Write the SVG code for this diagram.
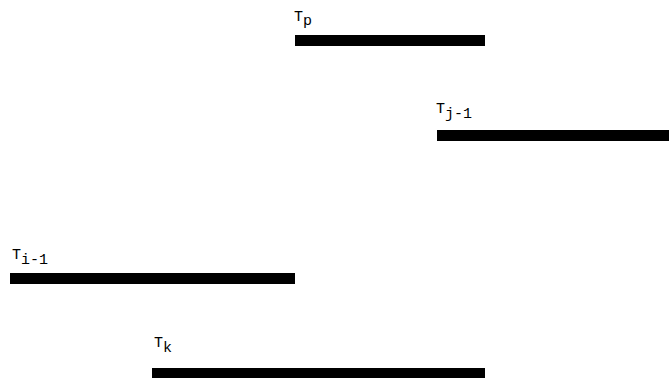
<svg xmlns="http://www.w3.org/2000/svg" width="669" height="385" viewBox="0 0 669 385">
<style>
text{font-family:"Liberation Mono","Courier New",monospace;font-size:15px;fill:#000}
.sub{font-size:15px}
.bar{fill:#000}
</style>
<rect width="669" height="385" fill="#fff"/>
<g id="Tp">
<text x="294" y="21">T<tspan class="sub" dy="4">p</tspan></text>
<rect class="bar" x="295" y="35" width="190" height="11"/>
</g>
<g id="Tj-1">
<text x="436" y="113">T<tspan class="sub" dy="5">j-1</tspan></text>
<rect class="bar" x="437" y="130" width="232" height="11"/>
</g>
<g id="Ti-1">
<text x="12" y="259">T<tspan class="sub" dy="5">i-1</tspan></text>
<rect class="bar" x="10" y="273" width="285" height="11"/>
</g>
<g id="Tk">
<text x="154" y="347">T<tspan class="sub" dy="5">k</tspan></text>
<rect class="bar" x="152" y="368" width="333" height="10"/>
</g>
<g id="connectors"/>
</svg>
